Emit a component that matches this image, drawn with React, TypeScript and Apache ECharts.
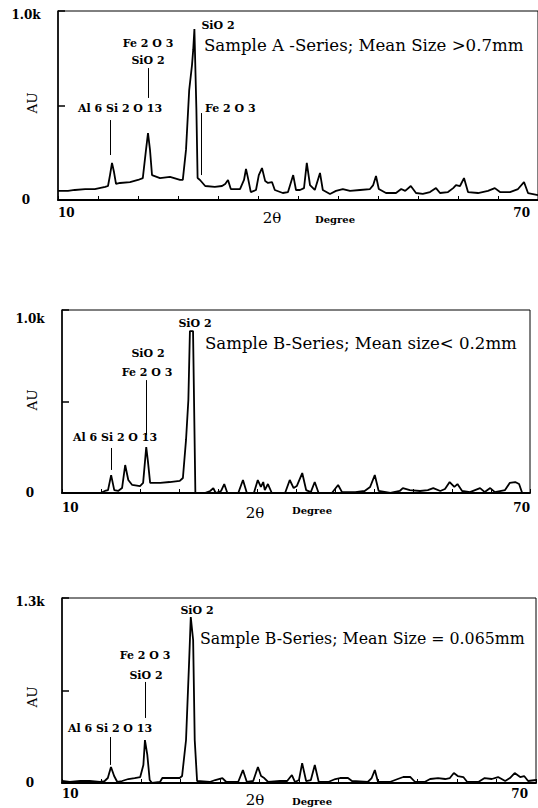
import React, { useEffect, useRef } from "react";
import * as echarts from "echarts";

// ---- Panel 1: Sample A (Mean Size > 0.7mm) ----
const P1_DEG = [10.0, 11.25, 12.1, 13.4, 14.6, 15.9, 16.25, 16.5, 16.75, 17.0, 17.25, 17.75, 19.0, 20.0, 20.6, 21.0, 21.25, 21.5, 21.75, 22.75, 24.0, 25.25, 25.6, 26.0, 26.4, 26.75, 26.9, 27.05, 27.3, 27.45, 27.75, 28.4, 29.6, 30.5, 30.9, 31.25, 31.6, 32.75, 33.25, 33.5, 33.75, 34.1, 34.75, 35.1, 35.5, 35.9, 36.25, 36.75, 37.1, 38.1, 38.75, 39.4, 39.75, 40.25, 40.75, 41.1, 41.5, 42.1, 42.75, 43.1, 44.0, 44.75, 45.6, 46.5, 47.75, 49.0, 49.4, 49.75, 50.1, 51.0, 52.25, 52.9, 53.4, 54.1, 54.75, 55.6, 56.5, 57.25, 57.75, 58.75, 59.4, 59.75, 60.25, 60.75, 61.25, 62.5, 63.75, 64.6, 65.25, 66.5, 67.5, 68.25, 68.75, 70.0];
const P1_VAL = [48, 48, 53, 58, 58, 69, 74, 132, 196, 148, 85, 90, 95, 106, 116, 265, 354, 265, 132, 116, 122, 106, 106, 265, 582, 714, 794, 905, 476, 116, 106, 74, 69, 74, 85, 106, 58, 58, 106, 164, 116, 42, 53, 132, 169, 100, 90, 95, 53, 37, 42, 132, 53, 53, 63, 196, 79, 53, 143, 53, 32, 48, 58, 48, 53, 58, 79, 127, 58, 37, 37, 58, 48, 74, 37, 32, 42, 63, 37, 42, 63, 79, 74, 116, 42, 37, 48, 63, 42, 42, 58, 95, 37, 26];

// ---- Panel 2: Sample B (Mean size < 0.2mm) ----
const P2_DEG = [10.0, 14.9, 15.5, 15.9, 16.3, 16.7, 17.2, 17.7, 18.1, 18.5, 19.0, 20.0, 20.4, 20.8, 21.0, 21.3, 22.6, 23.8, 25.1, 25.5, 25.9, 26.2, 26.4, 26.8, 27.1, 28.3, 29.0, 29.4, 29.7, 30.4, 30.8, 31.2, 32.6, 33.2, 33.7, 34.6, 35.1, 35.5, 35.8, 36.0, 36.4, 36.9, 38.6, 39.2, 39.7, 40.1, 40.8, 41.3, 41.9, 42.4, 42.9, 44.6, 45.4, 45.9, 47.6, 48.8, 49.5, 50.1, 50.6, 52.1, 53.3, 53.7, 54.6, 55.9, 56.9, 57.6, 58.5, 59.1, 59.7, 60.3, 60.7, 61.3, 62.3, 63.6, 64.2, 64.9, 65.5, 66.8, 67.4, 68.1, 68.6, 69.0, 70.0];
const P2_VAL = [0, 0, 11, 16, 98, 16, 11, 27, 153, 71, 44, 38, 55, 251, 180, 55, 55, 60, 66, 82, 290, 508, 885, 885, 0, 0, 11, 27, 0, 11, 49, 0, 0, 71, 0, 0, 71, 33, 60, 16, 49, 0, 0, 71, 27, 38, 109, 16, 5, 60, 0, 0, 44, 5, 5, 11, 33, 98, 11, 0, 11, 27, 16, 11, 16, 27, 11, 22, 60, 33, 49, 11, 5, 27, 5, 27, 5, 16, 55, 60, 49, 0, 0];

// ---- Panel 3: Sample B (Mean Size = 0.065mm) ----
const P3_DEG = [10.0, 11.0, 12.3, 13.5, 14.8, 15.4, 15.8, 16.2, 16.6, 17.0, 17.6, 18.4, 19.2, 19.9, 20.3, 20.5, 20.8, 21.1, 21.4, 22.4, 22.7, 23.7, 24.9, 25.2, 25.7, 26.1, 26.3, 26.6, 26.8, 27.1, 28.7, 29.4, 30.3, 30.8, 32.3, 32.9, 33.4, 34.2, 34.8, 35.2, 35.6, 36.1, 37.6, 38.5, 39.1, 39.5, 40.0, 40.4, 40.9, 41.5, 42.0, 42.5, 43.7, 44.6, 45.2, 46.2, 46.7, 48.7, 49.2, 49.6, 50.0, 51.5, 52.5, 53.2, 54.1, 54.7, 55.9, 56.6, 57.6, 58.5, 59.1, 59.6, 60.1, 60.8, 61.3, 62.7, 63.5, 64.4, 65.2, 66.1, 66.7, 67.3, 68.0, 68.5, 69.0, 70.0];
const P3_VAL = [14, 7, 14, 14, 7, 14, 35, 112, 49, 7, 14, 28, 35, 42, 126, 302, 197, 21, 0, 7, 35, 35, 35, 49, 302, 865, 1166, 1005, 302, 14, 7, 21, 35, 7, 7, 91, 7, 14, 112, 49, 35, 7, 14, 14, 56, 7, 21, 140, 14, 21, 126, 7, 7, 28, 35, 35, 14, 7, 35, 91, 7, 7, 28, 42, 42, 7, 7, 28, 35, 28, 35, 70, 49, 42, 7, 7, 35, 28, 42, 14, 35, 70, 42, 49, 14, 21];

// ---- Annotation pointer lines (deg, from value, to value) ----
const P1_MARK_X = [21.25, 16.5, 27.85];
const P1_MARK_TOP = [698, 423, 460];
const P1_MARK_BOTTOM = [540, 238, 132];
const P2_MARK_X = [20.77, 16.28];
const P2_MARK_TOP = [617, 246];
const P2_MARK_BOTTOM = [317, 126];
const P3_MARK_X = [20.5, 16.1];
const P3_MARK_TOP = [710, 323];
const P3_MARK_BOTTOM = [457, 127];

const Y_MAX = [1000, 1000, 1300];
const Y_TOP_LABEL = ["1.0k", "1.0k", "1.3k"];
const X_TICK_LABELS = ["10", "70"];
const TITLES = [
  "Sample A -Series; Mean Size >0.7mm",
  "Sample B-Series; Mean size< 0.2mm",
  "Sample B-Series; Mean Size = 0.065mm",
];

const SERIF = "DejaVu Serif";

function zip(xs: number[], ys: number[]) {
  return xs.map((x, i) => [x, ys[i]]);
}
function marks(xs: number[], tops: number[], bottoms: number[]) {
  return xs.map((x, i) => [{ coord: [x, tops[i]] }, { coord: [x, bottoms[i]] }]);
}

export default function App() {
  const ref = useRef<HTMLDivElement>(null);
  useEffect(() => {
    if (!ref.current) return;
    const chart = echarts.init(ref.current, null, { renderer: "svg" });
    const grids = [
      { left: 58, top: 11, width: 480, height: 189 },
      { left: 62, top: 310, width: 468, height: 183 },
      { left: 62, top: 598, width: 474, height: 185 },
    ];
    const xMargins = [7, 9, 5];
    const yTopPad = [8, 18, 8];
    const data = [zip(P1_DEG, P1_VAL), zip(P2_DEG, P2_VAL), zip(P3_DEG, P3_VAL)];
    const markData = [
      marks(P1_MARK_X, P1_MARK_TOP, P1_MARK_BOTTOM),
      marks(P2_MARK_X, P2_MARK_TOP, P2_MARK_BOTTOM),
      marks(P3_MARK_X, P3_MARK_TOP, P3_MARK_BOTTOM),
    ];

    const t = (text: string, x: number, y: number, size: number, bold: boolean, align = "center", rot = 0) => ({
      type: "text",
      x,
      y,
      rotation: rot,
      silent: true,
      style: {
        text,
        align,
        verticalAlign: "middle",
        fontFamily: SERIF,
        fontSize: size,
        fontWeight: bold ? "bold" : "normal",
        fill: "#000",
      },
    });

    const graphics = [
      // panel 1
      t("SiO 2", 218, 25, 11, true),
      t(TITLES[0], 204, 45, 16.6, false, "left"),
      t("Fe 2 O 3", 148, 43, 11, true),
      t("SiO 2", 148, 60, 11, true),
      t("Al 6 Si 2 O 13", 120, 108, 11, true),
      t("Fe 2 O 3", 205, 108, 11, true, "left"),
      t("AU", 32, 103, 13.5, false, "center", Math.PI / 2),
      t("2θ", 272, 218, 15, false),
      t("Degree", 315, 219, 10, true, "left"),
      // panel 2
      t("SiO 2", 195, 323, 11, true),
      t(TITLES[1], 205, 343, 16.6, false, "left"),
      t("SiO 2", 148, 353, 11, true),
      t("Fe 2 O 3", 147, 372, 11, true),
      t("Al 6 Si 2 O 13", 115, 437, 11, true),
      t("AU", 32, 400, 13.5, false, "center", Math.PI / 2),
      t("2θ", 255, 513, 15, false),
      t("Degree", 292, 510, 10, true, "left"),
      // panel 3
      t("SiO 2", 197, 610, 11, true),
      t(TITLES[2], 200, 638, 15.8, false, "left"),
      t("Fe 2 O 3", 145, 655, 11, true),
      t("SiO 2", 146, 675, 11, true),
      t("Al 6 Si 2 O 13", 110, 728, 11, true),
      t("AU", 32, 697, 13.5, false, "center", Math.PI / 2),
      t("2θ", 255, 800, 15, false),
      t("Degree", 292, 801, 10, true, "left"),
    ];

    chart.setOption({
      animation: false,
      backgroundColor: "#fff",
      grid: grids.map((g) => ({
        ...g,
        show: true,
        borderColor: "#000",
        borderWidth: 1,
        backgroundColor: "transparent",
        containLabel: false,
      })),
      xAxis: grids.map((_, i) => ({
        type: "value",
        gridIndex: i,
        min: 10,
        max: 70,
        interval: 5,
        axisLine: { show: true, onZero: false, lineStyle: { color: "#000", width: 2 } },
        axisTick: { show: true, inside: true, length: 4, lineStyle: { color: "#000", width: 1 } },
        splitLine: { show: false },
        axisLabel: {
          show: true,
          margin: xMargins[i],
          alignMinLabel: "left",
          alignMaxLabel: "right",
          fontFamily: SERIF,
          fontWeight: "bold",
          fontSize: 12,
          color: "#000",
          formatter: (v: number) =>
            v === 10 ? X_TICK_LABELS[0] : v === 70 ? "{r|" + X_TICK_LABELS[1] + "}" : "",
          rich: {
            r: {
              fontFamily: SERIF,
              fontWeight: "bold",
              fontSize: 12,
              color: "#000",
              padding: [0, i === 1 ? 0 : 8, 0, 0],
            },
          },
        },
      })),
      yAxis: grids.map((_, i) => ({
        type: "value",
        gridIndex: i,
        min: 0,
        max: Y_MAX[i],
        interval: Y_MAX[i] / 2,
        axisLine: { show: true, onZero: false, lineStyle: { color: "#000", width: 1.5 } },
        axisTick: { show: true, inside: true, length: 7, lineStyle: { color: "#000", width: 1.5 } },
        splitLine: { show: false },
        axisLabel: {
          show: true,
          margin: 32,
          align: "center",
          fontFamily: SERIF,
          fontWeight: "bold",
          fontSize: 12,
          color: "#000",
          formatter: (v: number) =>
            v === 0 ? "0" : v === Y_MAX[i] ? "{t|" + Y_TOP_LABEL[i] + "}" : "",
          rich: {
            t: {
              fontFamily: SERIF,
              fontWeight: "bold",
              fontSize: 12,
              color: "#000",
              padding: [yTopPad[i], 0, 0, 0],
            },
          },
        },
      })),
      series: data.map((d, i) => ({
        type: "line",
        xAxisIndex: i,
        yAxisIndex: i,
        data: d,
        symbol: "none",
        lineStyle: { color: "#000", width: 1.8 },
        silent: true,
        markLine: {
          silent: true,
          symbol: "none",
          label: { show: false },
          lineStyle: { color: "#000", width: 1, type: "solid" },
          data: markData[i],
        },
      })),
      graphic: graphics,
    });
    return () => chart.dispose();
  }, []);
  return (
    <div
      ref={ref}
      style={{ position: "absolute", left: 0, top: 0, width: 538, height: 808, background: "#fff" }}
    />
  );
}
